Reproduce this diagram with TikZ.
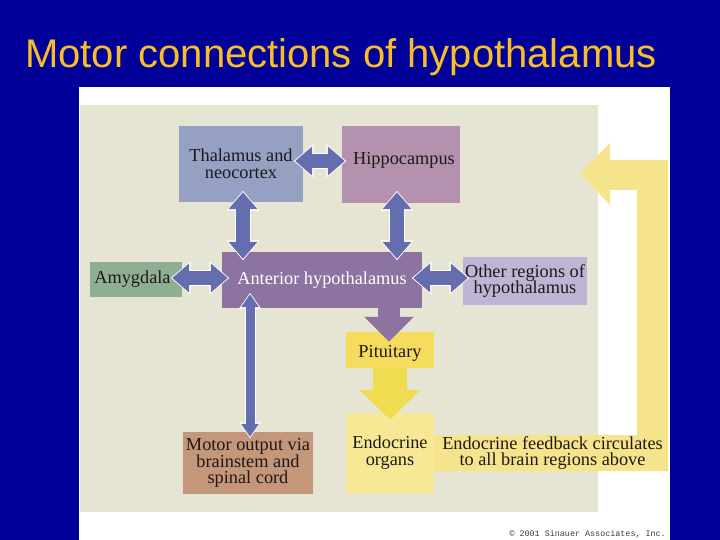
\documentclass[tikz,border=0pt]{standalone}
\usepackage{fontspec}
\setmainfont{Liberation Serif}
\newfontfamily\titlefont{Liberation Sans}
\newfontfamily\copyfont{Liberation Mono}
\usetikzlibrary{arrows.meta,calc}
\definecolor{bgblue}{RGB}{0,0,153}
\definecolor{titlegold}{RGB}{248,190,40}
\definecolor{beige}{RGB}{230,228,211}
\definecolor{thalc}{RGB}{150,160,195}
\definecolor{hipc}{RGB}{180,145,175}
\definecolor{antc}{RGB}{140,115,160}
\definecolor{amyc}{RGB}{143,175,148}
\definecolor{othc}{RGB}{192,180,212}
\definecolor{pitc}{RGB}{245,220,92}
\definecolor{endoc}{RGB}{248,232,150}
\definecolor{fbc}{RGB}{246,228,140}
\definecolor{yarrc}{RGB}{240,220,80}
\definecolor{motc}{RGB}{196,150,122}
\definecolor{arrblue}{RGB}{100,110,175}
\definecolor{txt}{RGB}{30,25,25}
\definecolor{copygray}{RGB}{60,60,60}
\begin{document}
\begin{tikzpicture}[x=1pt,y=-1pt,
  box/.style={inner sep=0pt, align=center, text=txt, font=\fontsize{18.3}{16.8}\selectfont},
  barrow/.style={draw=arrblue, line width=14pt,
    {Triangle[width=28pt,length=17pt]}-{Triangle[width=28pt,length=17pt]},
    preaction={draw=white, line width=16pt, shorten <=-1.5pt, shorten >=-1.5pt,
      {Triangle[width=32pt,length=20pt]}-{Triangle[width=32pt,length=20pt]}}},
  tarrow/.style={draw=arrblue, line width=9pt,
    {Triangle[width=17pt,length=13pt]}-{Triangle[width=17pt,length=13pt]},
    preaction={draw=white, line width=11pt, shorten <=-1.5pt, shorten >=-1.5pt,
      {Triangle[width=21pt,length=16pt]}-{Triangle[width=21pt,length=16pt]}}}
  ]
\fill[bgblue] (0,0) rectangle (720,540);
\useasboundingbox (0,0) rectangle (720,540);
\fill[white] (79,87) rectangle (670,540);
\fill[beige] (80,105) rectangle (598,512);

\node[font=\titlefont\fontsize{40}{42}\selectfont, text=titlegold, anchor=base west, inner sep=0pt] (title) at (25,68) {Motor connections of hypothalamus};

% boxes
\node[box, fill=thalc, minimum width=124pt, minimum height=76pt] (thal) at (241,164) {Thalamus and\\neocortex};
\node[box, fill=hipc, minimum width=118pt, minimum height=77pt] (hip) at (401,164.5) {\raisebox{4pt}[\height][\depth]{\hspace{6pt}Hippocampus}};
\node[box, fill=antc, minimum width=200pt, minimum height=56pt, text=white] (ant) at (322,280) {Anterior hypothalamus};
\node[box, fill=amyc, minimum width=92pt, minimum height=35pt] (amy) at (136,279.5) {Amygdala\hspace{7pt}};
\node[box, fill=othc, minimum width=124pt, minimum height=48pt] (oth) at (525,281) {Other regions of\\hypothalamus};
\node[box, fill=pitc, minimum width=88pt, minimum height=36pt] (pit) at (390,350) {\raisebox{-3pt}[\height][\depth]{Pituitary}};
\node[box, fill=endoc, minimum width=88pt, minimum height=80pt] (endo) at (390,453) {Endocrine\\organs};
\node[box, fill=motc, minimum width=130pt, minimum height=62pt] (motor) at (248,463) {Motor output via\\brainstem and\\spinal cord};

% feedback band
\coordinate (fbtip) at (580,173);
\fill[fbc] ($(endo.east)+(0,-18)$) -- (637,435) -- (637,190) -- (610,190) -- (610,205) -- (fbtip) -- (610,143) -- (610,160) -- (668,160) -- (668,471) -- ($(endo.east)+(0,18)$) -- cycle;
\node[box] (fbtext) at (552.5,453) {Endocrine feedback circulates\\to all brain regions above};

% blue double arrows
\draw[barrow] ($(thal.east)+(-8,-3)$) -- ($(hip.west)+(3,-3.5)$);
\draw[barrow] ($(thal.south)+(2,-10)$) -- ($(thal.south |- ant.north)+(2,7)$);
\draw[barrow] ($(hip.south)+(-4,-11)$) -- ($(hip.south |- ant.north)+(-4,7)$);
\draw[barrow] ($(amy.east)+(-10,-1.5)$) -- ($(ant.west)+(6,-2)$);
\draw[barrow] ($(ant.east)+(-9,-2)$) -- ($(oth.west)+(5,-3)$);
\draw[tarrow] ($(motor.north |- ant.south)+(2,-14)$) -- ($(motor.north)+(2,5)$);

% anterior -> pituitary
\draw[antc, line width=22pt, -{Triangle[width=48pt,length=25pt]}] ($(ant.south -| pit.north)+(-1,-1)$) -- ($(pit.north)+(-1,10)$);
% pituitary -> endocrine
\draw[yarrc, line width=34pt, -{Triangle[width=59pt,length=30pt]}] (pit.south) -- ($(endo.north)+(0,7)$);

\node[font=\copyfont\fontsize{8.4}{9}\selectfont, text=copygray, anchor=base east, inner sep=0pt] (copy) at (666,536) {© 2001 Sinauer Associates, Inc.};
\end{tikzpicture}
\end{document}
